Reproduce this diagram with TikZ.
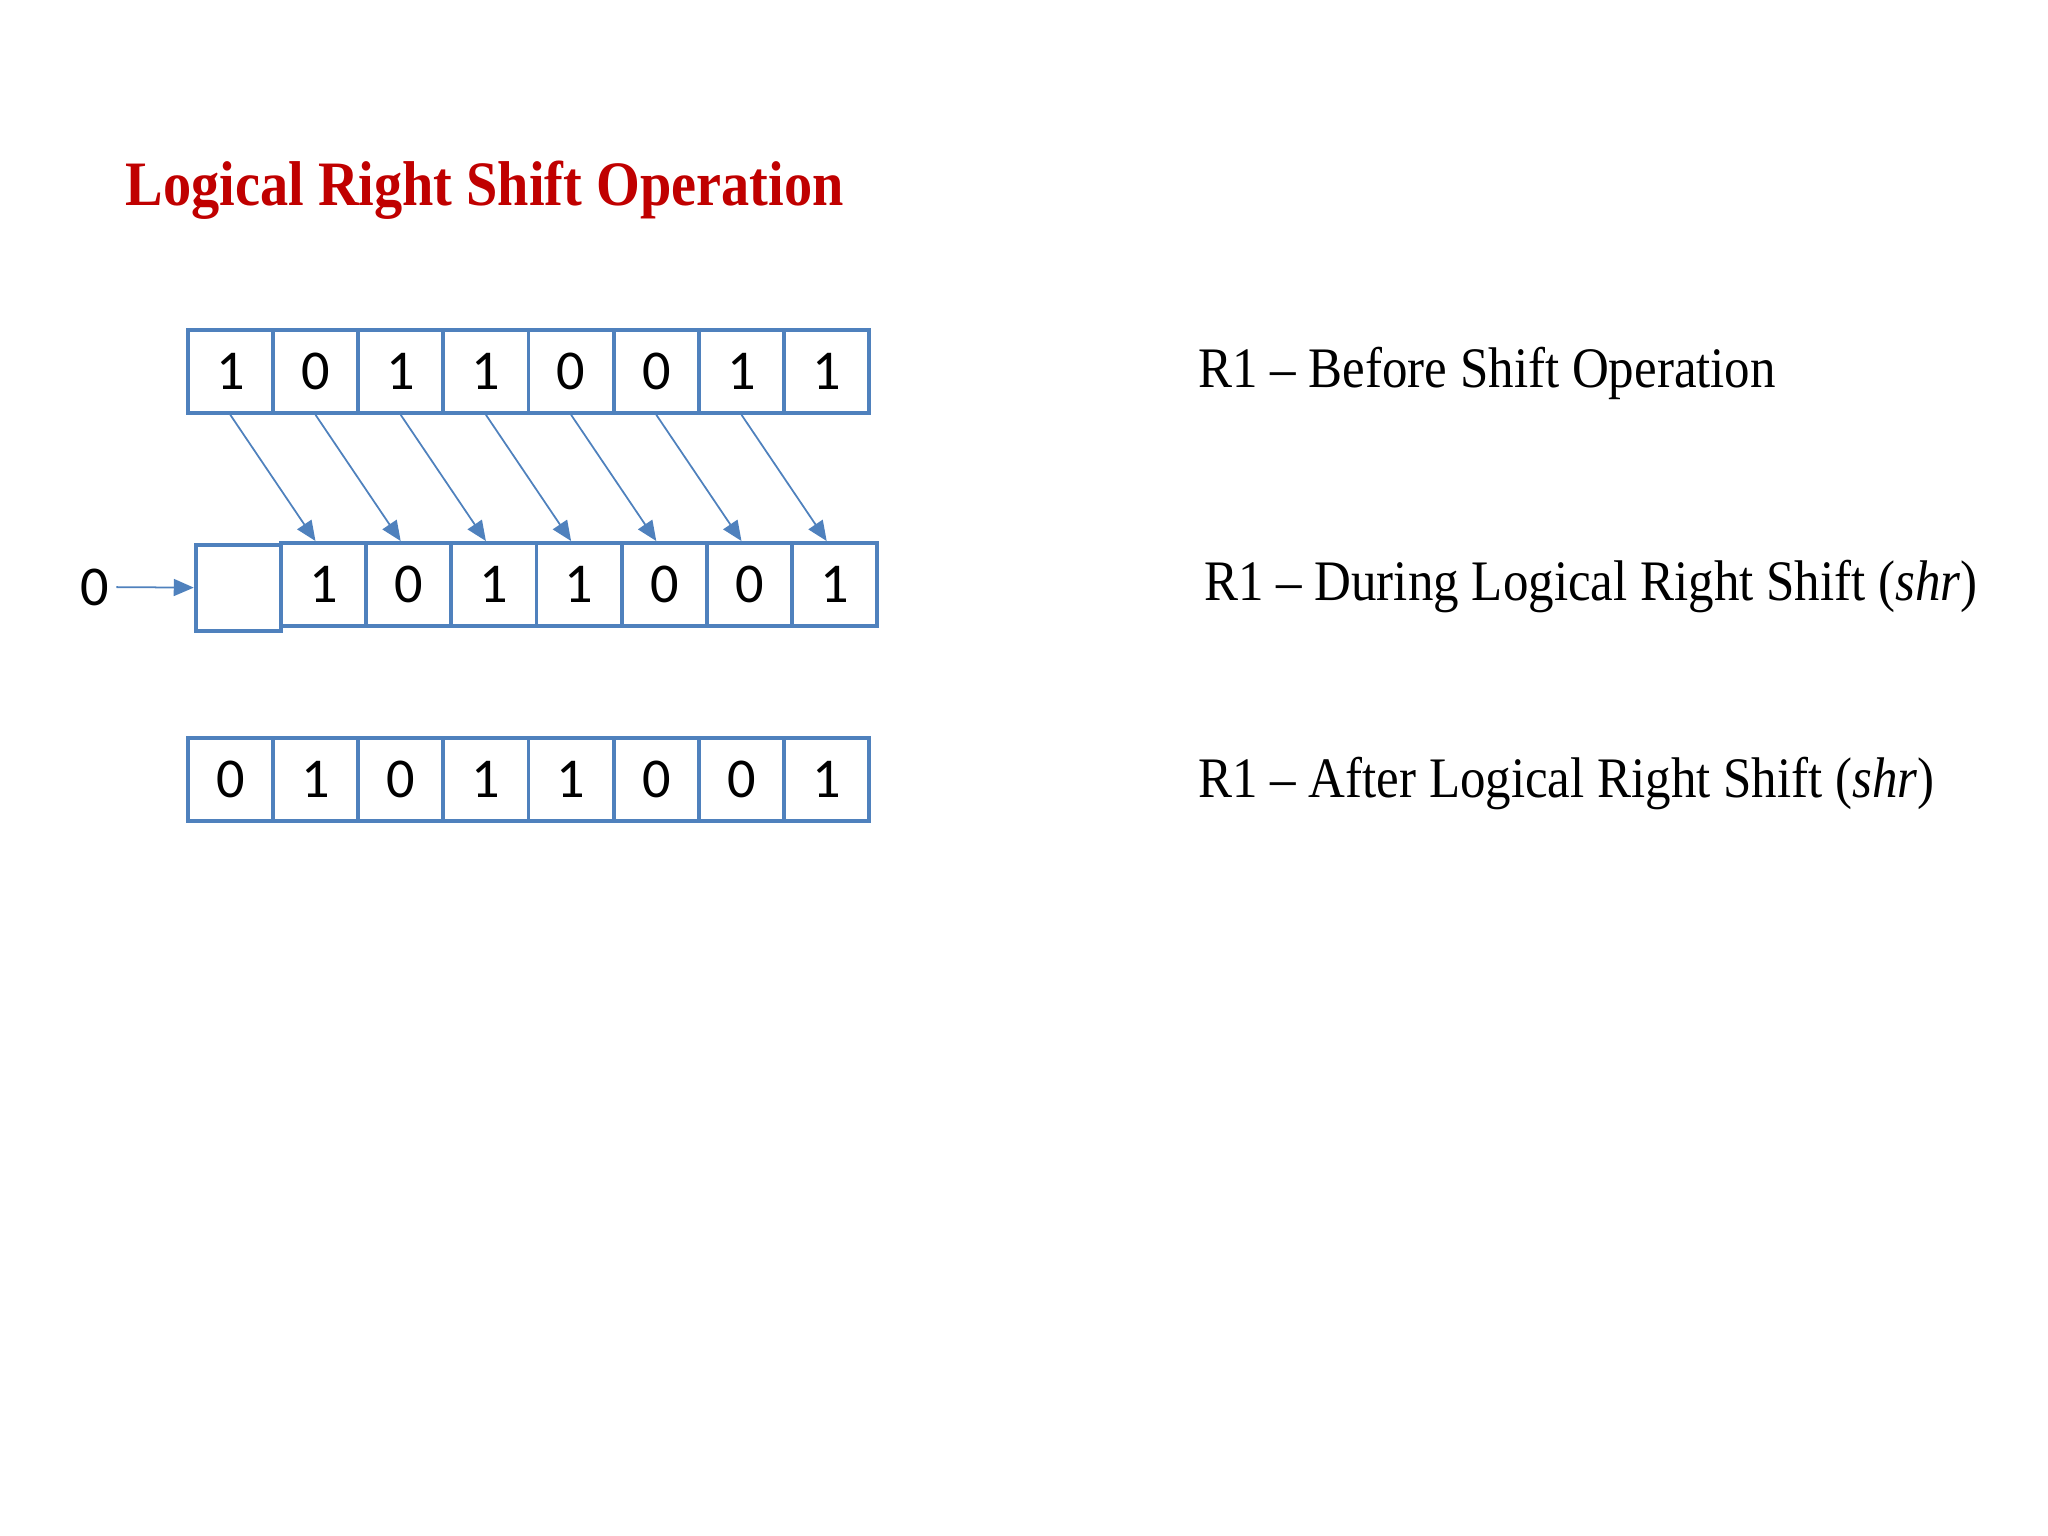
\documentclass[tikz,border=0pt]{standalone}
\usepackage{fontspec}
\setmainfont{Liberation Serif}
\newfontfamily\bitfont{Carlito}
\newfontfamily\labelfont{Liberation Serif}[FakeStretch=0.89]
\usepackage{tikz}
\usetikzlibrary{arrows.meta,positioning}
\usepackage{xcolor}
\definecolor{regblue}{RGB}{79,129,189}
\definecolor{titlered}{RGB}{192,0,0}
\tikzstyle{shiftarrow} = [-{Triangle[length=0.2cm,width=0.17cm]},color=regblue,line width=0.5pt]
\tikzstyle{bit} = [rectangle, draw=regblue, line width=1.1pt, minimum width=0.852cm, minimum height=0.83cm, inner sep=0pt, font=\bitfont\fontsize{16}{19}\selectfont]
\tikzstyle{regname} = [anchor=base west, inner sep=0pt, font=\labelfont\fontsize{16.3}{20}\selectfont]

\begin{document}
\begin{tikzpicture}
\useasboundingbox (0,0) rectangle (20.48,15.36);
% Title
\node (title) [anchor=base west, inner sep=0pt, text=titlered, font=\labelfont\bfseries\fontsize{18}{22}\selectfont] at (1.25,13.30) {Logical Right Shift Operation};

% R1 before the shift
\foreach \b [count=\i] in {1,0,1,1,0,0,1,1}
  \node (t\i) [bit] at ({2.303+0.852*(\i-1)},11.646) {\b};

% R1 during the shift
\node (m1) [bit, minimum height=0.86cm, anchor=north] at (2.383,9.93) {};
\foreach \b [count=\i from 2] in {1,0,1,1,0,0,1}
  \node (m\i) [bit] at ({2.383+0.852*(\i-1)},9.515) {\b};

% R1 after the shift
\foreach \b [count=\i] in {0,1,0,1,1,0,0,1}
  \node (b\i) [bit] at ({2.303+0.852*(\i-1)},7.565) {\b};

% bits moving one place right
\foreach \i [count=\j from 2] in {1,...,7}
  \draw[shiftarrow] (t\i.south) -- ([xshift=-0.08cm]m\j.north);

% zero shifted in
\node (zero) [inner sep=2pt, font=\bitfont\fontsize{16}{19}\selectfont] at (0.945,9.49) {0};
\draw[shiftarrow] (zero) -- (m1);

% register labels
\node (before) [regname] at (11.975,11.48) {R1 \textendash\ Before Shift Operation};
\node (during) [regname] at (12.035,9.35) {R1 \textendash\ During Logical Right Shift (\textit{shr})};
\node (after) [regname] at (11.975,7.385) {R1 \textendash\ After Logical Right Shift (\textit{shr})};
\end{tikzpicture}
\end{document}
